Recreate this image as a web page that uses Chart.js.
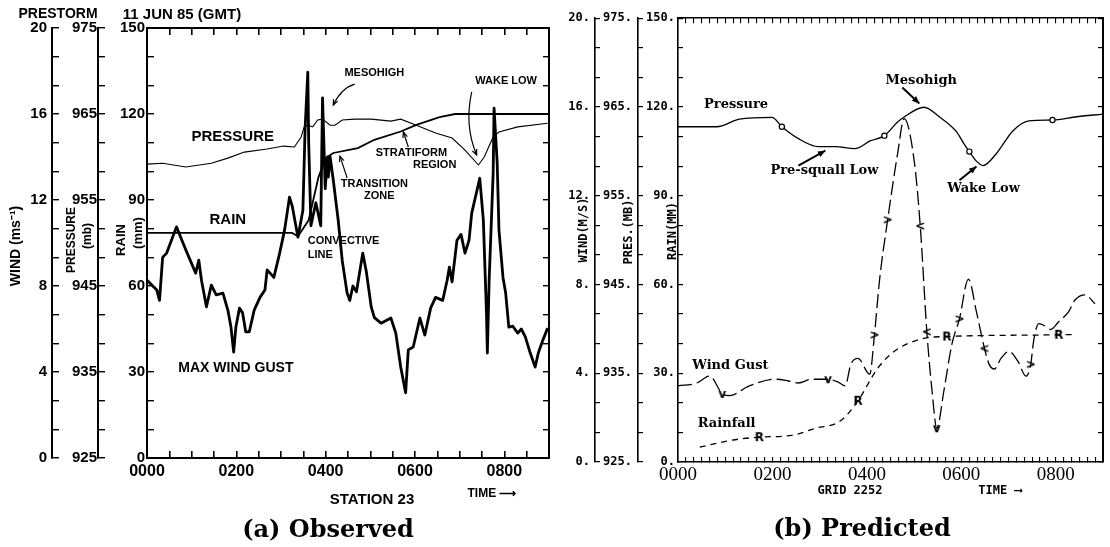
<!DOCTYPE html>
<html>
<head>
<meta charset="utf-8">
<title>PRESTORM 11 JUN 85 - observed and predicted squall line</title>
<script src="https://cdn.jsdelivr.net/npm/chart.js@4.4.1/dist/chart.umd.min.js"></script>
<style>
  html, body { margin: 0; padding: 0; background: #fff; }
  #page { position: relative; width: 1110px; height: 547px; overflow: hidden; background: #fff; }
  canvas { position: absolute; top: 0; }
  #chartA { left: 0; }
  #chartB { left: 560px; }
  .lbl { position: absolute; white-space: nowrap; color: #000; line-height: 1; transform: translate(-50%, -50%); }
  .rot { transform: translate(-50%, -50%) rotate(-90deg); }
  .sans { font-family: "Liberation Sans", Arial, sans-serif; font-weight: bold; }
  .mono { font-family: "DejaVu Sans Mono", monospace; font-weight: bold; }
  .serif { font-family: "DejaVu Serif", serif; font-weight: bold; }
</style>
</head>
<body>
<div id="page">
  <canvas id="chartA" width="560" height="547"></canvas>
  <canvas id="chartB" width="550" height="547"></canvas>

  <div class="lbl sans" style="left:58px;top:13px;font-size:14px">PRESTORM</div>
  <div class="lbl sans" style="left:182px;top:13px;font-size:15px">11 JUN 85 (GMT)</div>
  <div class="lbl sans rot" style="left:15px;top:246px;font-size:14px">WIND (ms⁻¹)</div>
  <div class="lbl sans rot" style="left:71px;top:240px;font-size:12px">PRESSURE</div>
  <div class="lbl sans rot" style="left:87px;top:236px;font-size:12px">(mb)</div>
  <div class="lbl sans rot" style="left:120px;top:240px;font-size:13px">RAIN</div>
  <div class="lbl sans rot" style="left:137px;top:233px;font-size:13px">(mm)</div>
  <div class="lbl sans" style="left:372px;top:498px;font-size:15px">STATION 23</div>
  <div class="lbl sans" style="left:492px;top:493px;font-size:12px">TIME ⟶</div>
  <div class="lbl serif" style="left:328px;top:529px;font-size:24px">(a) Observed</div>

  <div class="lbl mono rot" style="left:583px;top:230px;font-size:12px">WIND(M/S)</div>
  <div class="lbl mono rot" style="left:628px;top:232px;font-size:12px">PRES.(MB)</div>
  <div class="lbl mono rot" style="left:672px;top:231px;font-size:12px">RAIN(MM)</div>
  <div class="lbl mono" style="left:850px;top:490px;font-size:12px">GRID 2252</div>
  <div class="lbl mono" style="left:1000px;top:490px;font-size:12px">TIME ⟶</div>
  <div class="lbl serif" style="left:862px;top:528px;font-size:24px">(b) Predicted</div>
</div>

<script>
const SANS = '"Liberation Sans", Arial, sans-serif';
const MONO = '"DejaVu Sans Mono", monospace';
const SERIF = '"DejaVu Serif", serif';
const TIMES = '"Liberation Serif", serif';

// time is in hours after 0000 GMT
const timeLabelHours = [0, 2, 4, 6, 8];
const timeLabels = ['0000', '0200', '0400', '0600', '0800'];
const windLabels = [0, 4, 8, 12, 16, 20];
const presLabels = [925, 935, 945, 955, 965, 975];
const rainLabels = [0, 30, 60, 90, 120, 150];

// (a) observed, station 23
const obsWindT = [0.00, 0.22, 0.28, 0.35, 0.44, 0.66, 0.87, 1.09, 1.16, 1.22, 1.33, 1.44, 1.55, 1.70, 1.81, 1.88, 1.94, 1.99, 2.07, 2.14,
  2.21, 2.29, 2.40, 2.53, 2.64, 2.69, 2.84, 2.97, 3.08, 3.19, 3.25, 3.38, 3.49, 3.54, 3.60, 3.62, 3.67, 3.78, 3.89, 3.93,
  3.99, 4.04, 4.06, 4.10, 4.17, 4.28, 4.37, 4.48, 4.54, 4.61, 4.69, 4.83, 4.91, 5.02, 5.09, 5.24, 5.46, 5.57, 5.68, 5.79,
  5.85, 5.96, 6.11, 6.22, 6.35, 6.46, 6.62, 6.72, 6.77, 6.83, 6.94, 7.03, 7.12, 7.21, 7.27, 7.45, 7.53, 7.60, 7.62, 7.66,
  7.75, 7.77, 7.84, 7.88, 7.97, 8.03, 8.10, 8.19, 8.30, 8.38, 8.47, 8.58, 8.69, 8.76, 8.86, 8.97];
const obsWind = [8.27, 7.81, 7.33, 9.33, 9.53, 10.75, 9.67, 8.6, 9.2, 8.27, 7.03, 8.04, 7.59, 7.67, 6.88, 6.09, 4.93, 6.09, 6.97, 6.75,
  5.87, 5.87, 6.88, 7.47, 7.81, 8.75, 8.4, 9.53, 10.6, 12.13, 11.73, 10.27, 11.52, 15.33, 17.95, 14.67, 10.8, 11.87, 10.8, 16.75,
  12.53, 14.0, 13.07, 14.0, 12.93, 11.07, 9.2, 7.67, 7.33, 8.0, 7.73, 9.53, 8.67, 7.03, 6.53, 6.27, 6.51, 5.81, 4.23, 3.03,
  5.03, 5.16, 6.51, 5.72, 6.97, 7.47, 7.33, 8.27, 8.88, 8.19, 10.13, 10.4, 9.53, 10.13, 11.39, 13.01, 11.07, 6.75, 4.88, 8.27,
  13.25, 16.27, 13.73, 10.6, 8.4, 7.67, 6.09, 6.13, 5.81, 6.0, 5.63, 4.88, 4.23, 4.88, 5.47, 6.04];

const obsPresT = [0.00, 0.35, 0.87, 1.44, 1.81, 2.18, 2.69, 3.06, 3.30, 3.45, 3.52, 3.60, 3.71, 3.82, 3.93, 4.10,
  4.21, 4.37, 4.65, 5.02, 5.46, 5.68, 5.96, 6.46, 6.83, 7.12, 7.42, 7.55, 7.75, 7.88, 8.30, 8.97];
const obsPres = [959.17, 959.27, 958.83, 959.27, 959.87, 960.57, 960.93, 961.27, 961.17, 962.33, 963.5, 963.7, 963.5, 964.3, 964.4, 963.7,
  963.7, 964.3, 964.4, 964.4, 964.17, 964.4, 963.83, 962.8, 962.2, 960.8, 959.07, 960.0, 962.33, 962.9, 963.5, 963.93];

const obsRainT = [0, 3.25, 3.38, 3.62, 3.84, 4.0, 4.17, 4.72, 5.09, 5.68, 6.03, 6.55, 6.9, 9];
const obsRain = [78.5, 78.5, 77.3, 83, 98, 104.6, 106.4, 108.1, 111, 113.9, 116.2, 118.9, 120, 120];

// (b) predicted, grid 2252
const predPresT = [0, 0.82, 1.30, 1.99, 2.20, 2.55, 2.97, 3.33, 3.74, 4.08, 4.37, 4.65, 4.79,
  5.21, 5.54, 5.90, 6.05, 6.17, 6.32, 6.46, 6.74, 7.09, 7.43, 7.93, 8.41, 9.0];
const predPres = [962.77, 962.77, 963.63, 963.83, 962.77, 961.43, 960.53, 960.53, 960.3, 961.2, 961.77, 963.3, 963.87,
  964.97, 963.87, 962.2, 960.9, 959.97, 958.9, 958.4, 959.73, 962.3, 963.43, 963.53, 963.87, 964.2];

const predWindT = [0, 0.40, 0.67, 0.94, 1.09, 1.51, 2.07, 2.34, 2.55, 2.83, 3.18, 3.39, 3.54, 3.66, 3.81, 4.06,
  4.16, 4.27, 4.44, 4.65, 4.79, 5.00, 5.13, 5.27, 5.38, 5.48, 5.63, 5.80, 5.96, 6.15, 6.32, 6.49,
  6.59, 6.70, 6.84, 7.01, 7.20, 7.37, 7.47, 7.53, 7.64, 7.79, 7.89, 8.06, 8.27, 8.41, 8.62, 8.83];
const predWind = [3.43, 3.56, 3.87, 3.07, 2.99, 3.43, 3.73, 3.65, 3.56, 3.73, 3.73, 3.6, 3.43, 4.4, 4.67, 3.96,
  5.73, 8.24, 10.92, 13.89, 15.47, 13.6, 10.64, 5.87, 3.2, 1.52, 3.2, 5.31, 6.45, 8.24, 6.77, 5.12,
  4.4, 4.19, 4.67, 4.99, 4.53, 3.87, 4.4, 5.44, 6.24, 6.11, 5.97, 6.32, 6.77, 7.31, 7.53, 7.13];

const predRainT = [0.46, 1.15, 1.72, 2.41, 2.91, 3.45, 3.81, 4.23, 4.58, 5.21, 5.69, 8.06, 8.41];
const predRain = [5, 7.4, 8.4, 9, 11.4, 14, 20.7, 31.7, 37.4, 41.8, 42.4, 43, 43.1];

// hand-drawn trace markers on the predicted curves
const predPresMarkT = [2.20, 4.37, 6.17, 7.93];
const predRainMarkT = [1.72, 3.81, 5.69, 8.06];
const predWindMarkT = [0.94, 3.18, 4.16, 4.44, 5.13, 5.27, 5.48, 5.96, 6.49, 7.47];
const predWindMarkG = ['v', 'v', '>', '>', '<', '<', 'v', '>', '<', '>'];

const pts = (ts, vs) => ts.map((t, i) => ({ x: t, y: vs[i] }));

function evenTicks(min, max, n) {
  const out = [];
  for (let i = 0; i <= n; i++) out.push(min + (max - min) * i / n);
  return out;
}

function labelFor(list, v, fmt) {
  const hit = list.find(l => Math.abs(l - v) < 1e-6);
  return hit === undefined ? '' : fmt(hit);
}

function yAxis(o) {
  return {
    type: 'linear',
    position: o.position || 'left',
    weight: o.weight || 0,
    min: o.min,
    max: o.max,
    afterFit: s => { s.width = o.width; },
    afterBuildTicks: s => { s.ticks = evenTicks(o.min, o.max, 15).map(v => ({ value: v })); },
    grid: { drawOnChartArea: false, drawTicks: true, tickLength: -o.tick, color: '#000', lineWidth: o.lw },
    border: { display: true, color: '#000', width: o.bw },
    ticks: {
      display: !!o.labels,
      padding: o.pad || 0,
      color: '#000',
      font: o.font,
      callback: v => o.labels ? labelFor(o.labels, v, o.fmt || String) : ''
    }
  };
}

function xAxis(o) {
  return {
    type: 'linear',
    position: o.position,
    min: 0,
    max: 9,
    afterFit: s => { s.height = o.height; },
    afterBuildTicks: s => { s.ticks = evenTicks(0, 9, o.n).map(v => ({ value: v })); },
    grid: { drawOnChartArea: false, drawTicks: true, tickLength: -o.tick, color: '#000', lineWidth: o.lw },
    border: { display: true, color: '#000', width: o.bw },
    ticks: {
      display: !!o.labels,
      maxRotation: 0,
      autoSkip: false,
      padding: o.pad || 0,
      color: '#000',
      font: o.font,
      callback: v => o.labels ? labelFor(timeLabelHours, v, h => timeLabels[timeLabelHours.indexOf(h)]) : ''
    }
  };
}

function drawArrow(ctx, p0, c, p1, head, filled) {
  ctx.beginPath();
  ctx.moveTo(p0.x, p0.y);
  if (c) ctx.quadraticCurveTo(c.x, c.y, p1.x, p1.y);
  else ctx.lineTo(p1.x, p1.y);
  ctx.stroke();
  const from = c || p0;
  const ang = Math.atan2(p1.y - from.y, p1.x - from.x);
  const a1 = { x: p1.x - head * Math.cos(ang - 0.4), y: p1.y - head * Math.sin(ang - 0.4) };
  const a2 = { x: p1.x - head * Math.cos(ang + 0.4), y: p1.y - head * Math.sin(ang + 0.4) };
  ctx.beginPath();
  if (filled) {
    ctx.moveTo(p1.x, p1.y); ctx.lineTo(a1.x, a1.y); ctx.lineTo(a2.x, a2.y); ctx.closePath(); ctx.fill();
  } else {
    ctx.moveTo(a1.x, a1.y); ctx.lineTo(p1.x, p1.y); ctx.lineTo(a2.x, a2.y); ctx.stroke();
  }
}

// text notes and arrows placed in data units (hours, mm on the rain axis)
function notesPlugin(id, texts, arrows, style) {
  return {
    id,
    afterDatasetsDraw(chart) {
      const { ctx, scales } = chart;
      const px = p => ({ x: scales.x.getPixelForValue(p[0]), y: scales.yRain.getPixelForValue(p[1]) });
      ctx.save();
      ctx.fillStyle = '#000';
      ctx.strokeStyle = '#000';
      ctx.textBaseline = 'middle';
      texts.forEach(n => {
        const p = px(n.at);
        ctx.font = n.font;
        ctx.textAlign = n.align || 'center';
        ctx.fillText(n.text, p.x, p.y);
      });
      ctx.lineWidth = style.lw;
      arrows.forEach(a => drawArrow(ctx, px(a.from), a.via ? px(a.via) : null, px(a.to), style.head, style.filled));
      ctx.restore();
    }
  };
}

function glyph(ch, font) {
  const c = document.createElement('canvas');
  c.width = 14; c.height = 16;
  const g = c.getContext('2d');
  g.font = font;
  g.fillStyle = '#000';
  g.textAlign = 'center';
  g.textBaseline = 'middle';
  g.fillText(ch, 7, 8.5);
  return c;
}

function markerLookup(ts, markT, markG) {
  const m = {};
  markT.forEach((t, i) => {
    let best = 0;
    ts.forEach((tt, j) => { if (Math.abs(tt - t) < Math.abs(ts[best] - t)) best = j; });
    m[best] = markG ? markG[i] : true;
  });
  return m;
}

const base = {
  responsive: false,
  animation: false,
  plugins: { legend: { display: false }, tooltip: { enabled: false } }
};

// ---------- (a) Observed ----------
const fA = { family: SANS, weight: 'bold', size: 15 };
const lbA = (size) => 'bold ' + size + 'px ' + SANS;

new Chart(document.getElementById('chartA'), {
  type: 'line',
  data: {
    datasets: [
      { label: 'Pressure', data: pts(obsPresT, obsPres), xAxisID: 'x', yAxisID: 'yPres',
        borderColor: '#000', borderWidth: 1.1, pointRadius: 0, tension: 0 },
      { label: 'Rain', data: pts(obsRainT, obsRain), xAxisID: 'x', yAxisID: 'yRain',
        borderColor: '#000', borderWidth: 1.8, pointRadius: 0, tension: 0 },
      { label: 'Max wind gust', data: pts(obsWindT, obsWind), xAxisID: 'x', yAxisID: 'yWind',
        borderColor: '#000', borderWidth: 2.8, borderJoinStyle: 'round', pointRadius: 0, tension: 0 }
    ]
  },
  options: {
    ...base,
    layout: { padding: { left: 0, right: 0, top: 27, bottom: 67 } },
    scales: {
      x: xAxis({ position: 'bottom', height: 22, n: 18, tick: 7, lw: 1.6, bw: 2, labels: true, pad: 11,
        font: { family: SANS, weight: 'bold', size: 16 } }),
      xTop: xAxis({ position: 'top', height: 1, n: 18, tick: 7, lw: 1.6, bw: 2 }),
      yRain: yAxis({ min: 0, max: 150, weight: 0, width: 49, tick: 7, lw: 1.4, bw: 2, labels: rainLabels, pad: 9, font: fA }),
      yPres: yAxis({ min: 925, max: 975, weight: 1, width: 46, tick: 7, lw: 1.4, bw: 2, labels: presLabels, pad: 8, font: fA }),
      yWind: yAxis({ min: 0, max: 20, weight: 2, width: 52, tick: 7, lw: 1.4, bw: 2, labels: windLabels, pad: 12, font: fA }),
      yRight: yAxis({ min: 0, max: 150, position: 'right', width: 1, tick: 6, lw: 1.4, bw: 2 })
    }
  },
  plugins: [notesPlugin('notesA', [
    { text: 'PRESSURE', at: [1.92, 112], font: lbA(15) },
    { text: 'RAIN', at: [1.81, 83], font: lbA(15) },
    { text: 'MAX WIND GUST', at: [1.99, 31.4], font: lbA(14) },
    { text: 'MESOHIGH', at: [5.09, 134.3], font: lbA(11) },
    { text: 'WAKE LOW', at: [8.04, 131.5], font: lbA(11) },
    { text: 'STRATIFORM', at: [5.92, 106.4], font: lbA(11) },
    { text: 'REGION', at: [6.44, 102.2], font: lbA(11) },
    { text: 'TRANSITION', at: [5.09, 95.6], font: lbA(11) },
    { text: 'ZONE', at: [5.2, 91.4], font: lbA(11) },
    { text: 'CONVECTIVE', at: [3.6, 75.7], font: lbA(11), align: 'left' },
    { text: 'LINE', at: [3.6, 70.8], font: lbA(11), align: 'left' }
  ], [
    { from: [4.65, 130.4], via: [4.35, 129], to: [4.17, 123.1] },
    { from: [7.27, 127.7], via: [7.1, 116], to: [7.38, 105.7] },
    { from: [5.85, 108.5], to: [5.74, 113.7] },
    { from: [4.48, 97.7], to: [4.32, 105.3] }
  ], { lw: 1.2, head: 6, filled: false })]
});

// ---------- (b) Predicted ----------
const fB = { family: MONO, weight: 'bold', size: 12 };
const lbB = 'bold 13px ' + SERIF;
const markFont = 'bold 12px "DejaVu Sans", sans-serif';
const glyphs = {};
['R', '>', '<', 'v'].forEach(ch => { glyphs[ch] = glyph(ch, markFont); });

const windMarks = markerLookup(predWindT, predWindMarkT, predWindMarkG);
const rainMarks = markerLookup(predRainT, predRainMarkT, predRainMarkT.map(() => 'R'));
const presMarks = markerLookup(predPresT, predPresMarkT);

new Chart(document.getElementById('chartB'), {
  type: 'line',
  data: {
    datasets: [
      { label: 'Pressure', data: pts(predPresT, predPres), xAxisID: 'x', yAxisID: 'yPres',
        borderColor: '#000', borderWidth: 1.3, cubicInterpolationMode: 'monotone',
        pointStyle: 'circle', pointBackgroundColor: '#fff', pointBorderColor: '#000', pointBorderWidth: 1.2,
        pointRadius: c => presMarks[c.dataIndex] ? 2.6 : 0 },
      { label: 'Wind Gust', data: pts(predWindT, predWind), xAxisID: 'x', yAxisID: 'yWind',
        borderColor: '#000', borderWidth: 1.3, borderDash: [14, 5], cubicInterpolationMode: 'monotone',
        pointStyle: c => windMarks[c.dataIndex] ? glyphs[windMarks[c.dataIndex]] : 'circle',
        pointRadius: c => windMarks[c.dataIndex] ? 4 : 0 },
      { label: 'Rainfall', data: pts(predRainT, predRain), xAxisID: 'x', yAxisID: 'yRain',
        borderColor: '#000', borderWidth: 1.3, borderDash: [6, 5], cubicInterpolationMode: 'monotone',
        pointStyle: c => rainMarks[c.dataIndex] ? glyphs.R : 'circle',
        pointRadius: c => rainMarks[c.dataIndex] ? 4 : 0 }
    ]
  },
  options: {
    ...base,
    layout: { padding: { left: 0, right: 1, top: 12, bottom: 61 } },
    scales: {
      x: xAxis({ position: 'bottom', height: 24, n: 54, tick: 5, lw: 1.1, bw: 1.6, labels: true, pad: 7,
        font: { family: TIMES, size: 19 } }),
      xTop: xAxis({ position: 'top', height: 1, n: 54, tick: 5, lw: 1.1, bw: 1.6 }),
      yRain: yAxis({ min: 0, max: 150, weight: 0, width: 40, tick: 5, lw: 1.2, bw: 1.6, labels: rainLabels, pad: 8, font: fB, fmt: v => v + '.' }),
      yPres: yAxis({ min: 925, max: 975, weight: 1, width: 43, tick: 5, lw: 1.2, bw: 1.6, labels: presLabels, pad: 11, font: fB, fmt: v => v + '.' }),
      yWind: yAxis({ min: 0, max: 20, weight: 2, width: 35, tick: 5, lw: 1.2, bw: 1.6, labels: windLabels, pad: 10, font: fB, fmt: v => v + '.' }),
      yRight: yAxis({ min: 0, max: 150, position: 'right', width: 1, tick: 5, lw: 1.2, bw: 2 })
    }
  },
  plugins: [notesPlugin('notesB', [
    { text: 'Pressure', at: [1.23, 120.9], font: lbB },
    { text: 'Mesohigh', at: [5.15, 129], font: lbB },
    { text: 'Pre-squall Low', at: [3.1, 98.6], font: lbB },
    { text: 'Wake Low', at: [6.47, 92.5], font: lbB },
    { text: 'Wind Gust', at: [1.11, 32.7], font: lbB },
    { text: 'Rainfall', at: [1.03, 13], font: lbB }
  ], [
    { from: [4.75, 126.6], to: [5.11, 121.2] },
    { from: [2.55, 100.2], to: [3.12, 105.2] },
    { from: [5.96, 95.2], to: [6.32, 99.9] }
  ], { lw: 2, head: 8, filled: true })]
});
</script>
</body>
</html>
